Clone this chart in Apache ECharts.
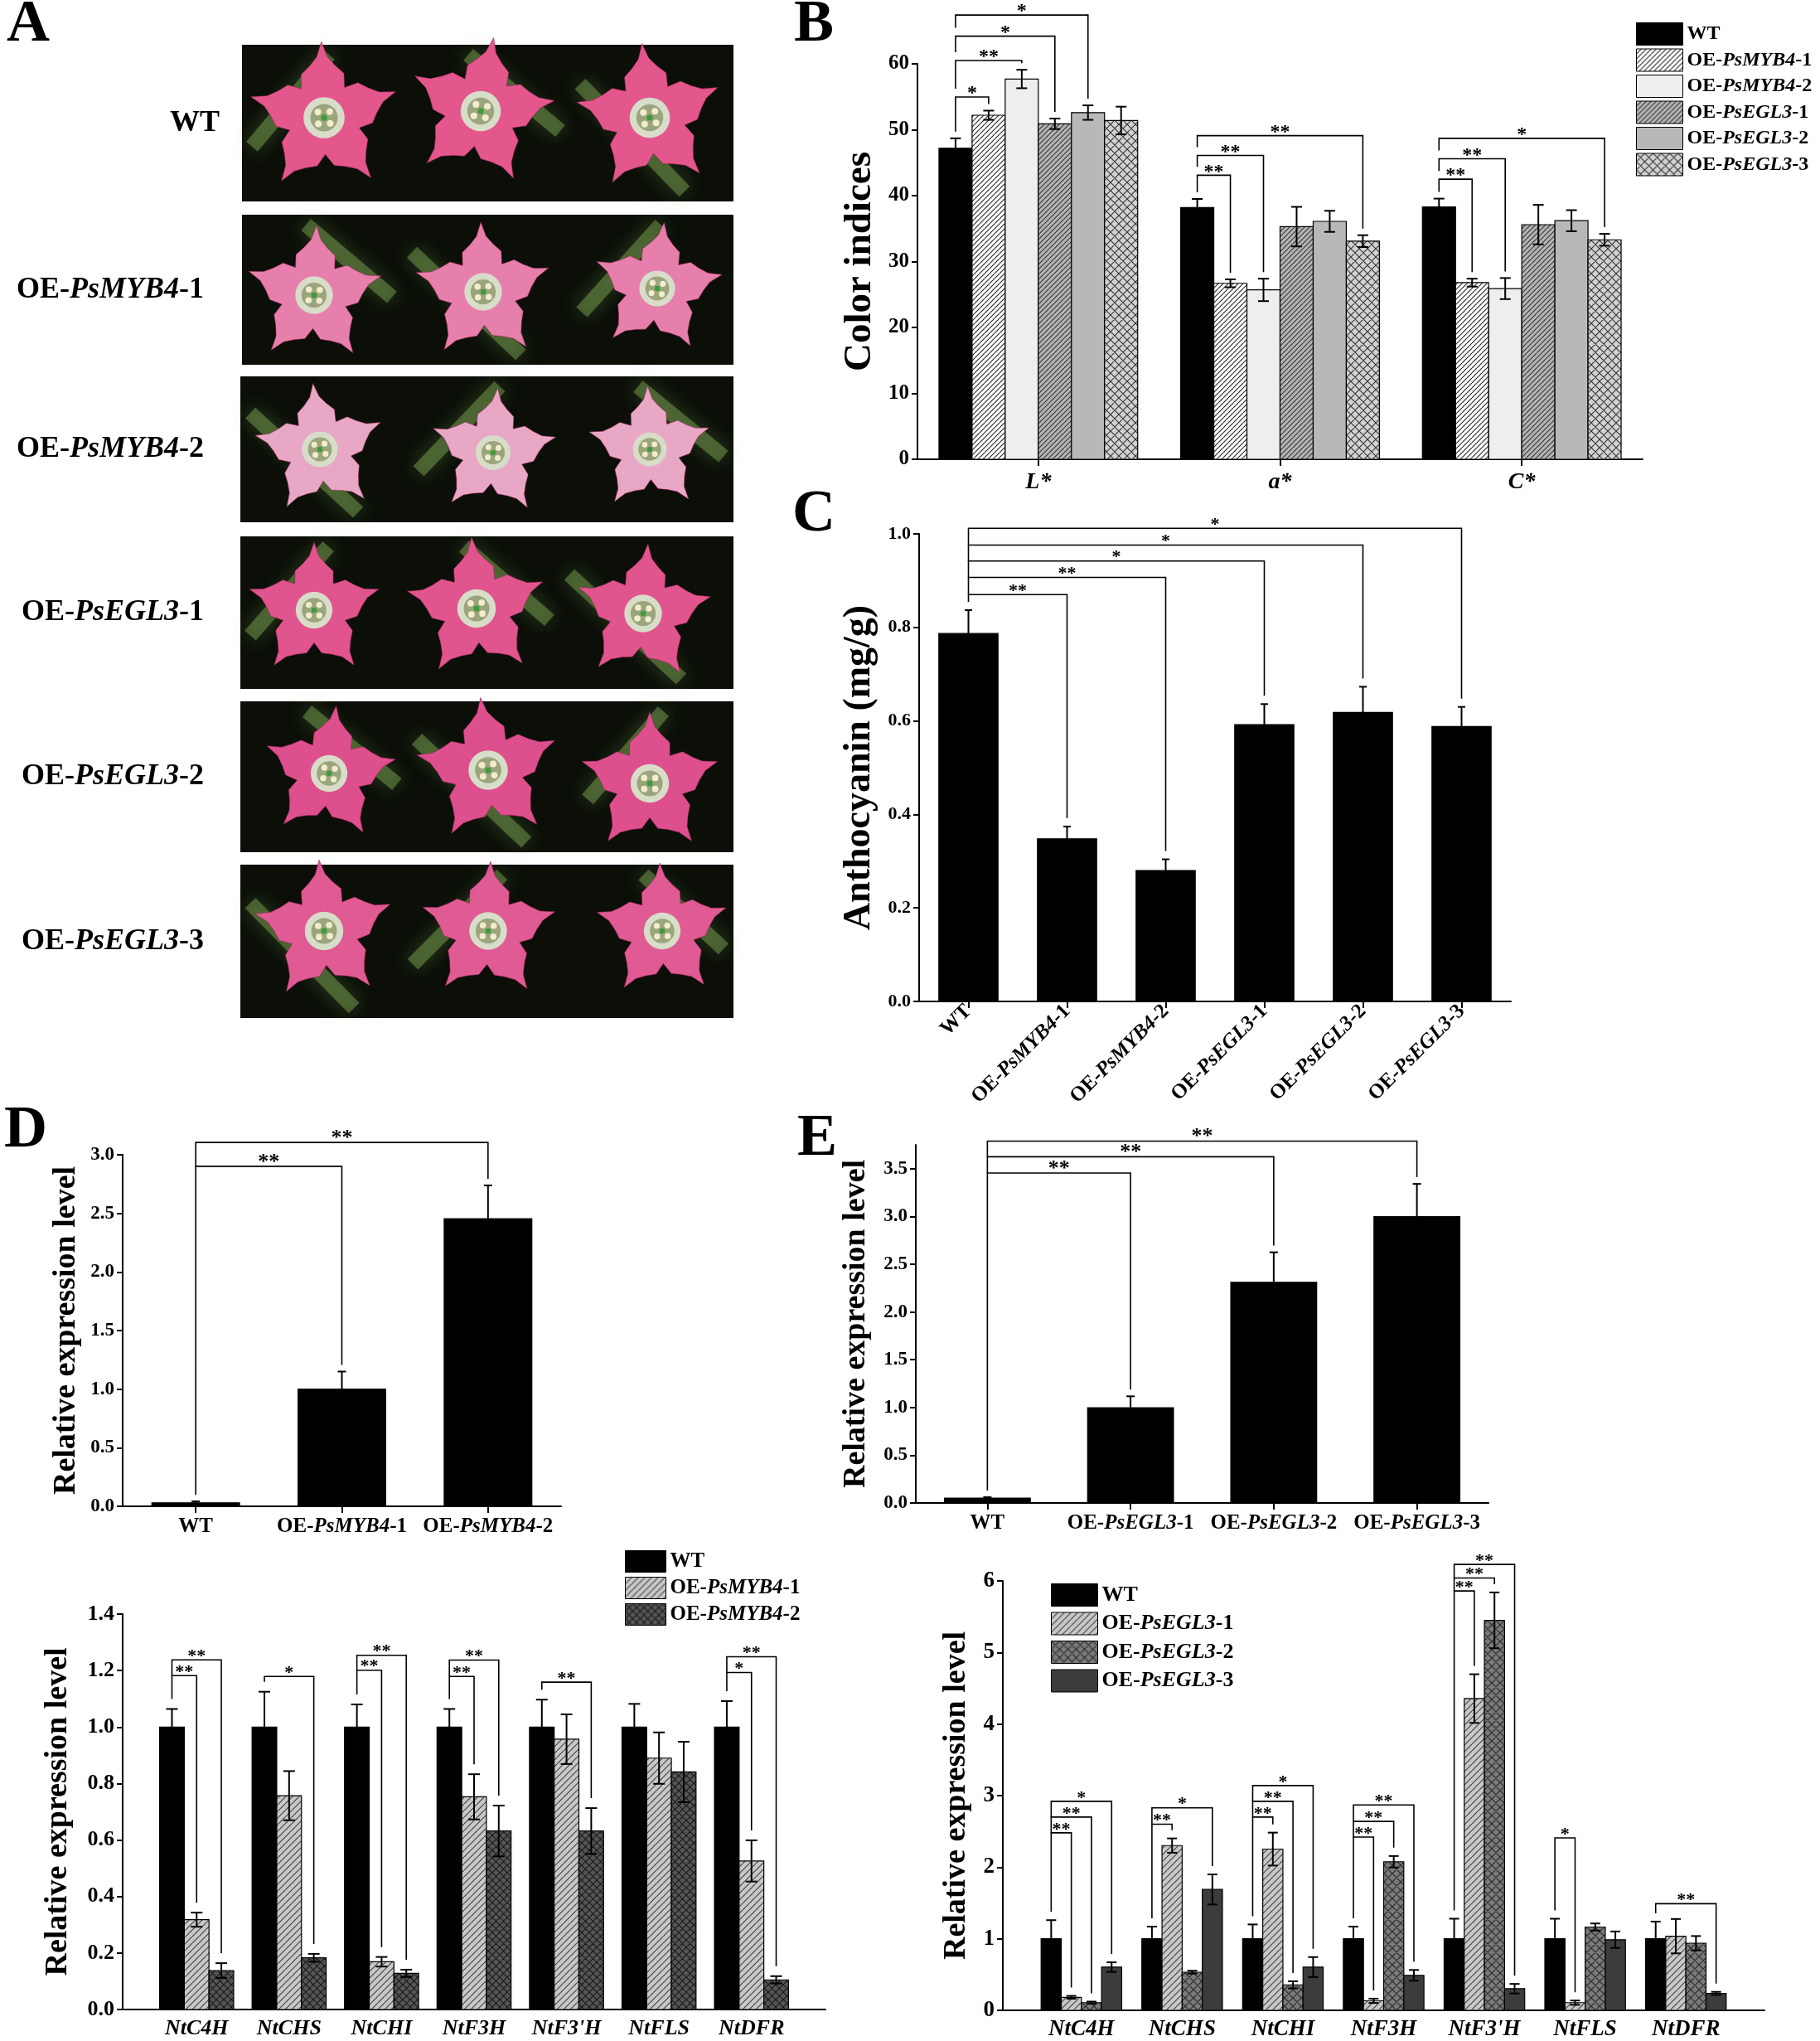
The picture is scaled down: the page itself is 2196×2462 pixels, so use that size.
<!DOCTYPE html>
<html lang="en">
<head>
<meta charset="UTF-8">
<title>Flower colour, anthocyanin and gene expression</title>
<style>
  html, body { margin: 0; padding: 0; background: #fff; }
  #chart { width: 2196px; height: 2462px; }
</style>
</head>
<body>
<div id="chart"></div>
<script src="https://cdn.jsdelivr.net/npm/echarts@6/dist/echarts.min.js"></script>
<script>
// ---------- values ----------
var lines6 = ['WT', 'OE-PsMYB4-1', 'OE-PsMYB4-2', 'OE-PsEGL3-1', 'OE-PsEGL3-2', 'OE-PsEGL3-3'];

// B: colour indices, one row per line, columns L*, a*, C*
var colorIdx = ['L*', 'a*', 'C*'];
var colorMean = [[47.2, 38.2, 38.3], [52.2, 26.7, 26.8], [57.7, 25.7, 25.9],
                 [50.9, 35.3, 35.6], [52.6, 36.1, 36.2], [51.4, 33.1, 33.3]];
var colorErr = [[1.5, 1.3, 1.25], [0.7, 0.6, 0.6], [1.4, 1.7, 1.6],
                [0.8, 3.0, 3.0], [1.1, 1.6, 1.6], [2.1, 0.9, 0.9]];
// [group, compared line, bracket level, stars]
var colorSig = [[0, 1, 54.97, 1], [0, 2, 60.5, 2], [0, 3, 64.2, 1], [0, 4, 67.4, 1],
                [1, 1, 43.1, 2], [1, 2, 46.1, 2], [1, 5, 49.1, 2],
                [2, 1, 42.5, 2], [2, 2, 45.6, 2], [2, 5, 48.7, 1]];

// C: anthocyanin
var anthoMean = [0.787, 0.348, 0.280, 0.592, 0.618, 0.588];
var anthoErr = [0.050, 0.026, 0.024, 0.044, 0.055, 0.042];
var anthoSig = [[0, 1, 0.870, 2], [0, 2, 0.907, 2], [0, 3, 0.942, 1], [0, 4, 0.976, 1], [0, 5, 1.012, 1]];

// D (top): PsMYB4 expression
var myb4Lines = ['WT', 'OE-PsMYB4-1', 'OE-PsMYB4-2'];
var myb4Expr = [0.03, 1.0, 2.454];
var myb4ExprErr = [0.012, 0.15, 0.285];
var myb4Sig = [[0, 1, 2.902, 2], [0, 2, 3.105, 2]];

// E (top): PsEGL3 expression
var egl3Lines = ['WT', 'OE-PsEGL3-1', 'OE-PsEGL3-2', 'OE-PsEGL3-3'];
var egl3Expr = [0.051, 0.997, 2.311, 2.998];
var egl3ExprErr = [0.010, 0.12, 0.314, 0.343];
var egl3Sig = [[0, 1, 3.455, 2], [0, 2, 3.625, 2], [0, 3, 3.789, 2]];

// D / E (bottom): structural genes
var genes = ['NtC4H', 'NtCHS', 'NtCHI', 'NtF3H', "NtF3'H", 'NtFLS', 'NtDFR'];
var myb4GeneMean = [[1, 1, 1, 1, 1, 1, 1],
                    [0.318, 0.757, 0.169, 0.753, 0.957, 0.890, 0.526],
                    [0.138, 0.183, 0.128, 0.632, 0.632, 0.841, 0.105]];
var myb4GeneErr = [[0.064, 0.125, 0.080, 0.064, 0.097, 0.082, 0.092],
                   [0.025, 0.087, 0.017, 0.080, 0.088, 0.091, 0.073],
                   [0.026, 0.014, 0.013, 0.090, 0.081, 0.107, 0.013]];
var myb4GeneSig = [[0, 1, 1.182, 2], [0, 2, 1.238, 2], [1, 2, 1.179, 1], [2, 1, 1.201, 2], [2, 2, 1.254, 2],
                   [3, 1, 1.179, 2], [3, 2, 1.237, 2], [4, 2, 1.159, 2], [6, 1, 1.193, 1], [6, 2, 1.249, 2]];

var egl3GeneMean = [[1, 1, 1, 1, 1, 1, 1],
                    [0.182, 2.302, 2.253, 0.133, 4.356, 0.107, 1.036],
                    [0.107, 0.533, 0.356, 2.076, 5.449, 1.164, 0.938],
                    [0.604, 1.689, 0.604, 0.489, 0.302, 0.987, 0.236]];
var egl3GeneErr = [[0.26, 0.17, 0.20, 0.17, 0.28, 0.28, 0.24],
                   [0.02, 0.10, 0.23, 0.03, 0.34, 0.03, 0.24],
                   [0.015, 0.02, 0.05, 0.08, 0.39, 0.05, 0.10],
                   [0.067, 0.21, 0.14, 0.075, 0.067, 0.115, 0.022]];
var egl3GeneSig = [[0, 1, 2.48, 2], [0, 2, 2.70, 2], [0, 3, 2.92, 1], [1, 1, 2.60, 2], [1, 3, 2.83, 1],
                   [2, 1, 2.70, 2], [2, 2, 2.92, 2], [2, 3, 3.14, 1], [3, 1, 2.42, 2], [3, 2, 2.64, 2],
                   [3, 3, 2.87, 2], [4, 1, 5.86, 2], [4, 2, 6.04, 2], [4, 3, 6.23, 2], [5, 1, 2.41, 1],
                   [6, 3, 1.49, 2]];

// ---------- helpers ----------
var FONT = '"Liberation Serif", "Times New Roman", serif';

function tile(bg, ink, step, cross, lw) {
    var c = document.createElement('canvas');
    c.width = c.height = step;
    var g = c.getContext('2d');
    g.fillStyle = bg;
    g.fillRect(0, 0, step, step);
    if (ink) {
        g.strokeStyle = ink;
        g.lineWidth = lw || 1;
        g.beginPath();
        for (var k = -1; k <= 1; k++) {
            g.moveTo(k * step, step); g.lineTo(k * step + step, 0);
            if (cross) { g.moveTo(k * step, 0); g.lineTo(k * step + step, step); }
        }
        g.stroke();
    }
    return {image: c, repeat: 'repeat'};
}

function richFor(size) {
    return {
        r: {fontFamily: FONT, fontWeight: 'bold', fontSize: size, color: '#000'},
        i: {fontFamily: FONT, fontWeight: 'bold', fontStyle: 'italic', fontSize: size, color: '#000'}
    };
}

function lineLabel(name) {
    var m = name.match(/^(OE-)(Ps[A-Z0-9]+)(-\d)$/);
    if (!m) return '{r|' + name + '}';
    return '{r|' + m[1] + '}{i|' + m[2] + '}{r|' + m[3] + '}';
}

var option = {
    backgroundColor: '#fff',
    animation: false,
    grid: [], xAxis: [], yAxis: [], series: [], legend: [], graphic: []
};

function addPanel(p) {
    var gi = option.grid.length;
    var n = p.cats.length, S = p.series.length;
    var centers = p.cats.map(function (_, i) { return i; });
    option.grid.push({left: p.left, top: p.top, width: p.width, height: p.height});

    option.xAxis.push({
        type: 'value', gridIndex: gi,
        min: p.xMin != null ? p.xMin : -0.5, max: p.xMax != null ? p.xMax : n - 0.5,
        splitLine: {show: false},
        axisLine: {show: true, onZero: false, lineStyle: {color: '#000', width: 2}},
        axisTick: {show: !!p.xTick, customValues: centers, length: 8, lineStyle: {color: '#000', width: 2}},
        axisLabel: {
            customValues: centers, margin: p.xMargin, rotate: p.xRotate || 0,
            rich: richFor(p.xFont),
            formatter: function (v) {
                var name = p.cats[Math.round(v)];
                return p.xItalic ? '{i|' + name + '}' : lineLabel(name);
            }
        }
    });

    var yAxis = {
        type: 'value', gridIndex: gi, min: 0, max: p.yMax, interval: p.yStep,
        name: p.yName, nameLocation: 'middle', nameRotate: 90, nameGap: p.nameGap,
        nameTextStyle: {fontFamily: FONT, fontWeight: 'bold', fontSize: p.nameFont, color: '#000'},
        splitLine: {show: false},
        axisLine: {show: true, onZero: false, lineStyle: {color: '#000', width: 2}},
        axisTick: {show: true, length: 7, lineStyle: {color: '#000', width: 2}},
        axisLabel: {
            fontFamily: FONT, fontWeight: 'bold', fontSize: p.yFont, color: '#000', margin: 10,
            formatter: function (v) { return v.toFixed(p.yDec); }
        }
    };
    if (p.yTicks) {
        yAxis.axisTick.customValues = p.yTicks;
        yAxis.axisLabel.customValues = p.yTicks;
    }
    option.yAxis.push(yAxis);

    function xOf(c, s) { return c + (s - (S - 1) / 2) * p.barW; }
    function topOf(c, s) { return p.series[s].mean[c] + p.series[s].err[c]; }

    p.series.forEach(function (sr, s) {
        var off = (s - (S - 1) / 2) * p.barW;
        option.series.push({
            type: 'custom', name: p.key + '|' + sr.name,
            xAxisIndex: gi, yAxisIndex: gi,
            itemStyle: {color: sr.fill, borderColor: '#000', borderWidth: 1},
            data: sr.mean.map(function (v, i) { return [i + off, v, sr.err[i]]; }),
            renderItem: function (params, api) {
                var x = api.value(0), v = api.value(1), e = api.value(2);
                var a = api.coord([x - p.barW / 2, v]), b = api.coord([x + p.barW / 2, 0]);
                var t = api.coord([x, v + e]), d = api.coord([x, p.errBoth ? v - e : v]);
                var cx = (a[0] + b[0]) / 2, h = p.cap / 2;
                var ink = {stroke: '#000', lineWidth: 2};
                var kids = [
                    {type: 'rect', shape: {x: a[0], y: a[1], width: b[0] - a[0], height: b[1] - a[1]},
                     style: {fill: sr.fill, stroke: '#000', lineWidth: 1.2}},
                    {type: 'line', shape: {x1: cx, y1: t[1], x2: cx, y2: d[1]}, style: ink},
                    {type: 'line', shape: {x1: cx - h, y1: t[1], x2: cx + h, y2: t[1]}, style: ink}
                ];
                if (p.errBoth) {
                    kids.push({type: 'line', shape: {x1: cx - h, y1: d[1], x2: cx + h, y2: d[1]}, style: ink});
                }
                return {type: 'group', children: kids};
            }
        });
    });

    // significance brackets: [fromCat, fromSeries, toCat, toSeries, level, stars]
    var br = p.sig.map(function (q) {
        return S === 1 ? [0, 0, q[1], 0, q[2], q[3]] : [q[0], 0, q[0], q[1], q[2], q[3]];
    });
    option.series.push({
        type: 'custom', xAxisIndex: gi, yAxisIndex: gi, clip: false, silent: true, z: 5,
        data: br,
        renderItem: function (params, api) {
            var fc = api.value(0), fs = api.value(1), tc = api.value(2), ts = api.value(3);
            var lvl = api.value(4), st = api.value(5);
            var xf = xOf(fc, fs), xt = xOf(tc, ts);
            var pf = api.coord([xf, lvl]), pt = api.coord([xt, lvl]);
            var below = br.filter(function (b) { return b[0] === fc && b[1] === fs && b[4] < lvl; })
                          .map(function (b) { return b[4]; });
            var leftEnd = below.length
                ? api.coord([xf, Math.max.apply(null, below)])[1] - p.legGap
                : api.coord([xf, topOf(fc, fs)])[1] - p.endGap;
            var rightEnd = api.coord([xt, topOf(tc, ts)])[1] - p.endGap;
            return {type: 'group', children: [
                {type: 'polyline',
                 shape: {points: [[pf[0], leftEnd], [pf[0], pf[1]], [pt[0], pt[1]], [pt[0], rightEnd]]},
                 style: {fill: 'none', stroke: '#000', lineWidth: 1.6}},
                {type: 'text', x: (pf[0] + pt[0]) / 2, y: pf[1] + p.starDy,
                 style: {text: st === 2 ? '**' : '*', font: 'bold ' + p.starFont + 'px ' + FONT,
                         fill: '#000', align: 'center', verticalAlign: 'bottom'}}
            ]};
        }
    });

    if (p.legend) {
        var lg = p.legend;
        option.legend.push({
            orient: 'vertical', left: lg.left, top: lg.top, padding: 0,
            itemWidth: lg.w, itemHeight: lg.h, itemGap: lg.gap,
            icon: 'rect', selectedMode: false,
            data: p.series.map(function (s) { return p.key + '|' + s.name; }),
            itemStyle: {borderColor: '#000', borderWidth: 1},
            textStyle: {fontFamily: FONT, fontWeight: 'bold', fontSize: lg.font, color: '#000',
                        rich: richFor(lg.font)},
            formatter: function (name) { return lineLabel(name.split('|')[1]); }
        });
    }
}

// ---------- fills ----------
var BLACK = '#000';
var fillB = [BLACK, tile('#ffffff', '#222', 6, false, 1.1), '#eeeeee',
             tile('#b4b4b4', '#333', 6, false, 1.1), '#b8b8b8', tile('#d2d2d2', '#333', 10, true, 1.1)];
var fillDlow = [BLACK, tile('#c8c8c8', '#444', 8, false, 1.2), tile('#555555', '#1a1a1a', 9, true, 1.2)];
var fillElow = [BLACK, tile('#c8c8c8', '#444', 8, false, 1.2), tile('#7a7a7a', '#2a2a2a', 10, true, 1.2), '#3c3c3c'];

// ---------- panel B ----------
addPanel({
    key: 'B', left: 1107, top: 77, width: 875, height: 477,
    cats: colorIdx, xItalic: true, xFont: 28, xMargin: 14, xTick: true,
    yMax: 60, yStep: 10, yDec: 0, yFont: 25,
    yName: 'Color indices', nameGap: 46, nameFont: 47,
    barW: 0.137, errBoth: true, cap: 13,
    series: lines6.map(function (nm, s) {
        return {name: nm, fill: fillB[s], mean: colorMean[s], err: colorErr[s]};
    }),
    sig: colorSig, legGap: 10, endGap: 8, starFont: 24, starDy: 8,
    legend: {left: 1974, top: 27, w: 56, h: 27, gap: 3.5, font: 24}
});

// ---------- panel C ----------
addPanel({
    key: 'C', left: 1109, top: 644, width: 714, height: 564,
    cats: lines6, xFont: 25, xMargin: 8, xTick: true, xRotate: 45,
    yMax: 1.0, yStep: 0.2, yDec: 1, yFont: 22,
    yName: 'Anthocyanin (mg/g)', nameGap: 49, nameFont: 46,
    barW: 0.6, errBoth: false, cap: 9,
    series: [{name: 'Anthocyanin', fill: BLACK, mean: anthoMean, err: anthoErr}],
    sig: anthoSig, legGap: 0, endGap: 10, starFont: 22, starDy: 7
});

// ---------- panel D top ----------
addPanel({
    key: 'Dt', left: 148, top: 1393, width: 529, height: 424,
    cats: myb4Lines, xFont: 25, xMargin: 12, xTick: true,
    yMax: 3, yStep: 0.5, yDec: 1, yFont: 23,
    yName: 'Relative expression level', nameGap: 49, nameFont: 38,
    barW: 0.6, errBoth: false, cap: 10,
    series: [{name: 'PsMYB4', fill: BLACK, mean: myb4Expr, err: myb4ExprErr}],
    sig: myb4Sig, legGap: 0, endGap: 8, starFont: 26, starDy: 8
});

// ---------- panel E top ----------
addPanel({
    key: 'Et', left: 1105, top: 1381, width: 691, height: 432,
    cats: egl3Lines, xFont: 25, xMargin: 12, xTick: true,
    yMax: 3.75, yStep: 0.5, yDec: 1, yFont: 23, yTicks: [0, 0.5, 1, 1.5, 2, 2.5, 3, 3.5],
    yName: 'Relative expression level', nameGap: 53, nameFont: 38,
    barW: 0.6, errBoth: false, cap: 10,
    series: [{name: 'PsEGL3', fill: BLACK, mean: egl3Expr, err: egl3ExprErr}],
    sig: egl3Sig, legGap: 0, endGap: 8, starFont: 26, starDy: 8
});

// ---------- panel D bottom ----------
addPanel({
    key: 'Db', left: 148, top: 1947, width: 848, height: 477, xMin: -0.8, xMax: 6.8,
    cats: genes, xItalic: true, xFont: 26, xMargin: 10, xTick: false,
    yMax: 1.4, yStep: 0.2, yDec: 1, yFont: 26,
    yName: 'Relative expression level', nameGap: 59, nameFont: 38,
    barW: 0.267, errBoth: true, cap: 14,
    series: myb4Lines.map(function (nm, s) {
        return {name: nm, fill: fillDlow[s], mean: myb4GeneMean[s], err: myb4GeneErr[s]};
    }),
    sig: myb4GeneSig, legGap: 0, endGap: 12, starFont: 22, starDy: 7,
    legend: {left: 754, top: 1870, w: 49, h: 26, gap: 5, font: 25}
});

// ---------- panel E bottom ----------
addPanel({
    key: 'Eb', left: 1210, top: 1907, width: 919, height: 518, xMin: -0.78, xMax: 6.78,
    cats: genes, xItalic: true, xFont: 27, xMargin: 10, xTick: false,
    yMax: 6, yStep: 1, yDec: 0, yFont: 27,
    yName: 'Relative expression level', nameGap: 37, nameFont: 38,
    barW: 0.2, errBoth: true, cap: 12,
    series: egl3Lines.map(function (nm, s) {
        return {name: nm, fill: fillElow[s], mean: egl3GeneMean[s], err: egl3GeneErr[s]};
    }),
    sig: egl3GeneSig, legGap: 0, endGap: 10, starFont: 22, starDy: 7,
    legend: {left: 1268, top: 1910, w: 56, h: 27, gap: 6.5, font: 26}
});

// ---------- panel A: drawn stand-ins for the flower photographs ----------
var photoRows = [
    {y: 54, h: 189, xs: [292, 483, 688, 885], label: 'WT', petal: '#e3578d'},
    {y: 259, h: 181, xs: [292, 485, 690, 885], label: 'OE-PsMYB4-1', petal: '#e67fab'},
    {y: 454, h: 176, xs: [290, 493, 693, 885], label: 'OE-PsMYB4-2', petal: '#e9a7c6'},
    {y: 647, h: 184, xs: [290, 483, 675, 885], label: 'OE-PsEGL3-1', petal: '#e1558e'},
    {y: 846, h: 182, xs: [290, 491, 697, 885], label: 'OE-PsEGL3-2', petal: '#dd508d'},
    {y: 1043, h: 185, xs: [290, 486, 704, 885], label: 'OE-PsEGL3-3', petal: '#e05b93'}
];
var flowerSpots = [
    [[391, 142, 92, -92], [580, 134, 90, -80], [784, 142, 90, -96]],
    [[379, 356, 84, -88], [583, 352, 84, -92], [793, 348, 80, -84]],
    [[386, 542, 80, -96], [595, 546, 78, -86], [784, 542, 76, -92]],
    [[379, 736, 82, -90], [575, 734, 86, -94], [776, 740, 84, -86]],
    [[397, 933, 82, -84], [589, 929, 88, -96], [784, 945, 86, -90]],
    [[391, 1123, 86, -94], [589, 1123, 84, -88], [799, 1123, 82, -92]]
];

function flowerPoints(cx, cy, R, rot) {
    var spec = [[-36, 0.48], [-26, 0.64], [-14, 0.7], [-5, 0.8], [0, 1.0], [5, 0.8], [14, 0.7], [26, 0.64]];
    var pts = [];
    for (var k = 0; k < 5; k++) {
        spec.forEach(function (sp) {
            var t = (rot + k * 72 + sp[0]) * Math.PI / 180;
            pts.push([cx + R * sp[1] * Math.cos(t), cy + R * sp[1] * Math.sin(t)]);
        });
    }
    return pts;
}

photoRows.forEach(function (row, r) {
    for (var j = 0; j < 3; j++) {
        var x0 = row.xs[j], x1 = row.xs[j + 1], w = x1 - x0;
        option.graphic.push({type: 'rect', shape: {x: x0, y: row.y, width: w, height: row.h},
                             style: {fill: '#0b0f08'}, z: 1});
        var k = (r + j) % 3;
        var stem = k === 0 ? [x0 + 12, row.y + row.h * 0.65, x0 + w * 0.55, row.y + 12]
                 : k === 1 ? [x0 + w * 0.4, row.y + 12, x1 - 12, row.y + row.h * 0.55]
                 : [x0 + 12, row.y + row.h * 0.25, x0 + w * 0.7, row.y + row.h - 12];
        option.graphic.push({type: 'line', shape: {x1: stem[0], y1: stem[1], x2: stem[2], y2: stem[3]},
                             style: {stroke: 'rgba(120,160,80,0.5)', lineWidth: 18,
                                     shadowBlur: 22, shadowColor: 'rgba(120,160,80,0.7)'}, z: 2});
        var f = flowerSpots[r][j], cx = f[0], cy = f[1], R = f[2], rot = f[3];
        option.graphic.push({type: 'polygon', shape: {points: flowerPoints(cx, cy, R, rot)},
                             style: {fill: row.petal, stroke: 'rgba(150,30,80,0.5)', lineWidth: 1}, z: 3});
        option.graphic.push({type: 'circle', shape: {cx: cx, cy: cy, r: R * 0.27},
                             style: {fill: '#d7ddc9'}, z: 4});
        option.graphic.push({type: 'circle', shape: {cx: cx, cy: cy, r: R * 0.18},
                             style: {fill: '#9aa57c'}, z: 5});
        for (var q = 0; q < 4; q++) {
            var t = (rot + 45 + q * 90) * Math.PI / 180;
            option.graphic.push({type: 'circle',
                                 shape: {cx: cx + R * 0.11 * Math.cos(t), cy: cy + R * 0.11 * Math.sin(t), r: R * 0.045},
                                 style: {fill: '#f2eccd'}, z: 6});
        }
        option.graphic.push({type: 'circle', shape: {cx: cx, cy: cy, r: R * 0.04},
                             style: {fill: '#3f9a3a'}, z: 7});
    }
    option.graphic.push({
        type: 'text', z: 10,
        x: r === 0 ? 265 : 246, y: row.y + row.h / 2,
        style: {text: lineLabel(row.label), rich: richFor(36),
                font: 'bold 36px ' + FONT, align: 'right', verticalAlign: 'middle', fill: '#000'}
    });
});

// panel letters
[['A', 8, -6], ['B', 958, -6], ['C', 956, 585], ['D', 5, 1328], ['E', 962, 1338]].forEach(function (L) {
    option.graphic.push({type: 'text', x: L[1], y: L[2], z: 10,
                         style: {text: L[0], font: 'bold 72px ' + FONT, fill: '#000', verticalAlign: 'top'}});
});

var chart = echarts.init(document.getElementById('chart'));
chart.setOption(option);
</script>
</body>
</html>
